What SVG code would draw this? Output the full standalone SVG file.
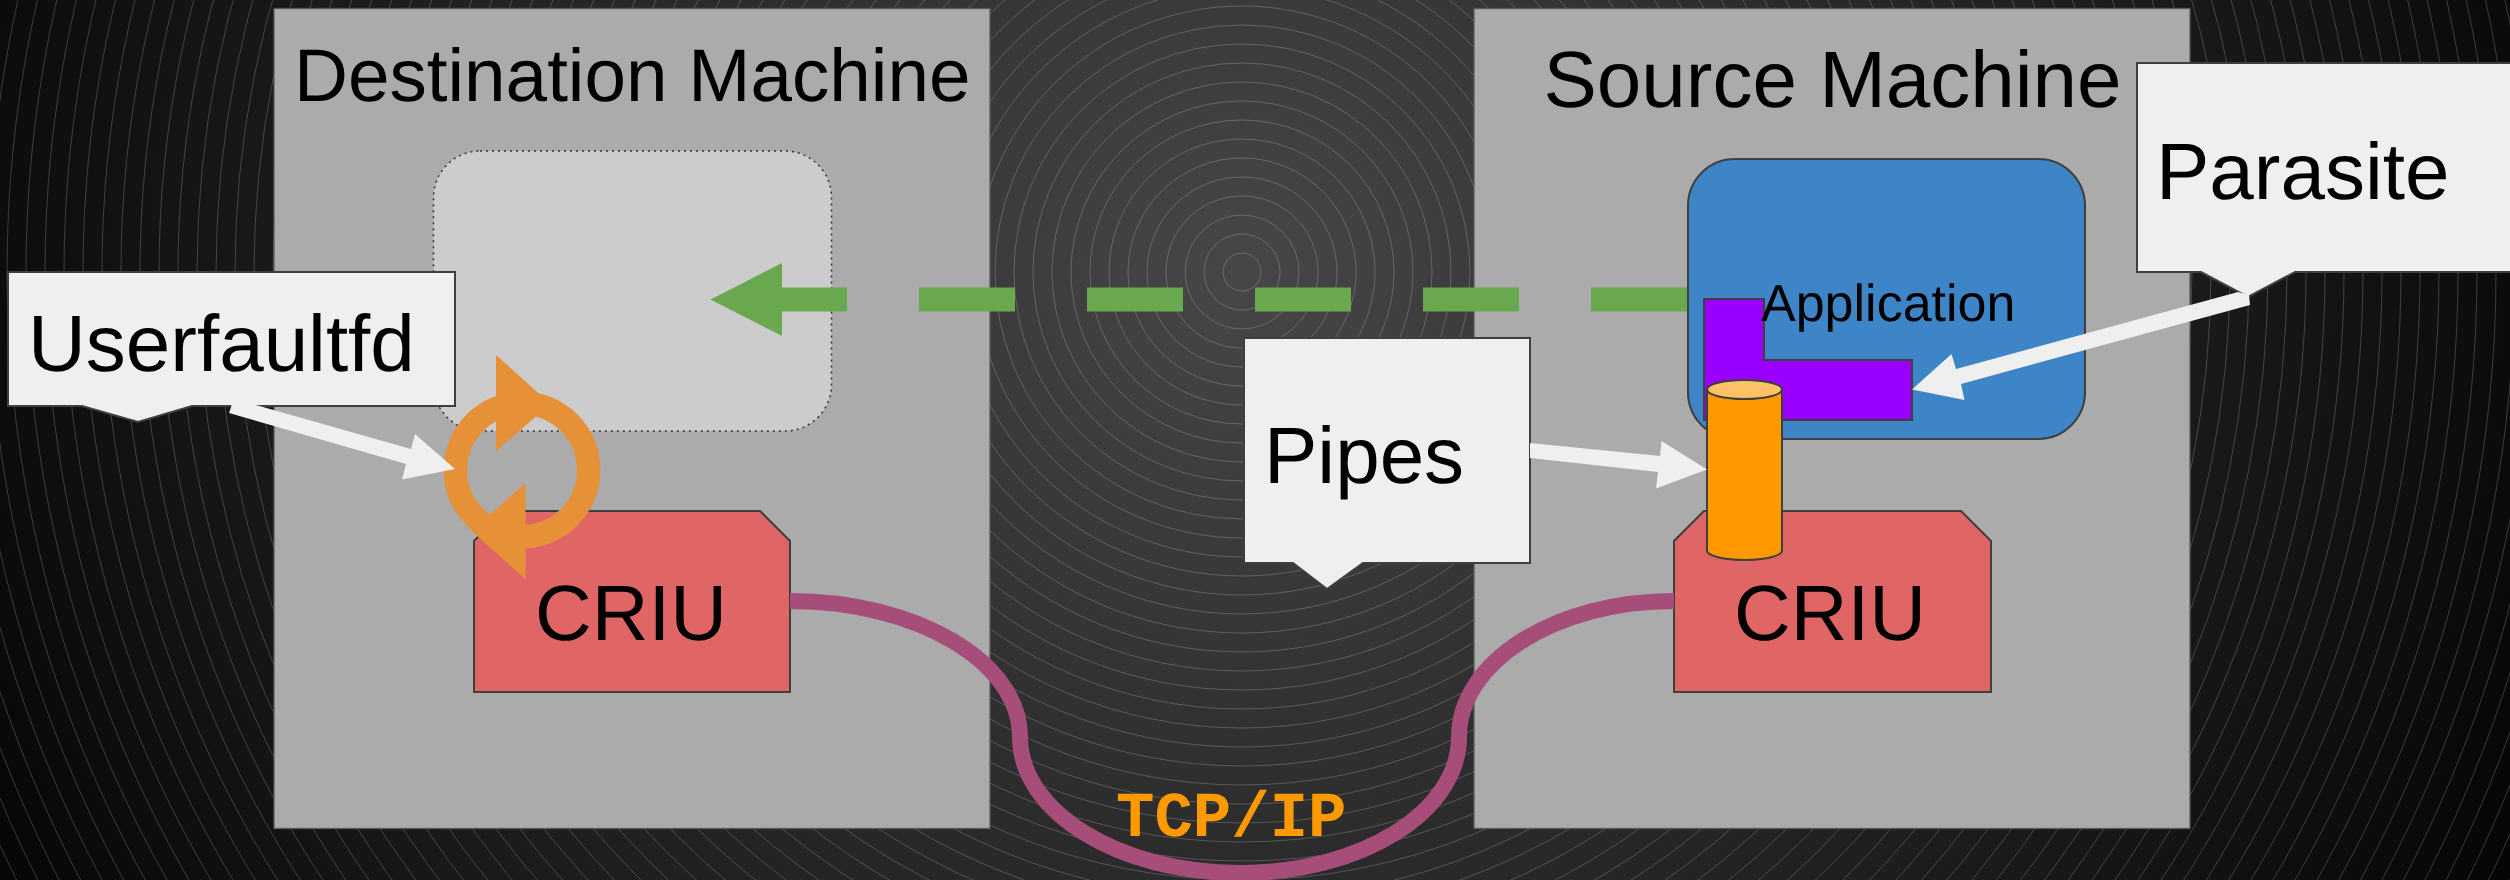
<svg xmlns="http://www.w3.org/2000/svg" width="2510" height="880" viewBox="0 0 2510 880">
<style>
text{font-family:"Liberation Sans",Arial,sans-serif;fill:#000;text-rendering:geometricPrecision}
.t{font-size:80px}
.c{font-size:78.500px;text-anchor:middle}
.rings circle{fill:none;stroke:#fff;stroke-opacity:.2;stroke-width:1}
.mach{fill:#ababab;stroke:#595959;stroke-width:1.3}
.line{stroke:#3f3f3f;stroke-width:2}
.call{fill:#efefef}
.criu{fill:#e06666}
.ptr{fill:#efefef}
</style>
<defs>
<radialGradient id="bg" gradientUnits="userSpaceOnUse" cx="1242" cy="272" r="1400">
<stop offset="0" stop-color="#474747"/><stop offset="1" stop-color="#050505"/>
</radialGradient>
</defs>
<rect width="2510" height="880" fill="url(#bg)"/>
<g class="rings">
<circle cx="1242" cy="272" r="19"/><circle cx="1242" cy="272" r="38"/><circle cx="1242" cy="272" r="57"/><circle cx="1242" cy="272" r="76"/><circle cx="1242" cy="272" r="95"/><circle cx="1242" cy="272" r="114"/><circle cx="1242" cy="272" r="133"/><circle cx="1242" cy="272" r="152"/><circle cx="1242" cy="272" r="171"/><circle cx="1242" cy="272" r="190"/><circle cx="1242" cy="272" r="209"/><circle cx="1242" cy="272" r="228"/><circle cx="1242" cy="272" r="247"/><circle cx="1242" cy="272" r="266"/><circle cx="1242" cy="272" r="285"/><circle cx="1242" cy="272" r="304"/><circle cx="1242" cy="272" r="323"/><circle cx="1242" cy="272" r="342"/><circle cx="1242" cy="272" r="361"/><circle cx="1242" cy="272" r="380"/><circle cx="1242" cy="272" r="399"/><circle cx="1242" cy="272" r="418"/><circle cx="1242" cy="272" r="437"/><circle cx="1242" cy="272" r="456"/><circle cx="1242" cy="272" r="475"/><circle cx="1242" cy="272" r="494"/><circle cx="1242" cy="272" r="513"/><circle cx="1242" cy="272" r="532"/><circle cx="1242" cy="272" r="551"/><circle cx="1242" cy="272" r="570"/><circle cx="1242" cy="272" r="589"/><circle cx="1242" cy="272" r="608"/><circle cx="1242" cy="272" r="627"/><circle cx="1242" cy="272" r="646"/><circle cx="1242" cy="272" r="665"/><circle cx="1242" cy="272" r="684"/><circle cx="1242" cy="272" r="703"/><circle cx="1242" cy="272" r="722"/><circle cx="1242" cy="272" r="741"/><circle cx="1242" cy="272" r="760"/><circle cx="1242" cy="272" r="779"/><circle cx="1242" cy="272" r="798"/><circle cx="1242" cy="272" r="817"/><circle cx="1242" cy="272" r="836"/><circle cx="1242" cy="272" r="855"/><circle cx="1242" cy="272" r="874"/><circle cx="1242" cy="272" r="893"/><circle cx="1242" cy="272" r="912"/><circle cx="1242" cy="272" r="931"/><circle cx="1242" cy="272" r="950"/><circle cx="1242" cy="272" r="969"/><circle cx="1242" cy="272" r="988"/><circle cx="1242" cy="272" r="1007"/><circle cx="1242" cy="272" r="1026"/><circle cx="1242" cy="272" r="1045"/><circle cx="1242" cy="272" r="1064"/><circle cx="1242" cy="272" r="1083"/><circle cx="1242" cy="272" r="1102"/><circle cx="1242" cy="272" r="1121"/><circle cx="1242" cy="272" r="1140"/><circle cx="1242" cy="272" r="1159"/><circle cx="1242" cy="272" r="1178"/><circle cx="1242" cy="272" r="1197"/><circle cx="1242" cy="272" r="1216"/><circle cx="1242" cy="272" r="1235"/><circle cx="1242" cy="272" r="1254"/><circle cx="1242" cy="272" r="1273"/><circle cx="1242" cy="272" r="1292"/><circle cx="1242" cy="272" r="1311"/><circle cx="1242" cy="272" r="1330"/><circle cx="1242" cy="272" r="1349"/><circle cx="1242" cy="272" r="1368"/><circle cx="1242" cy="272" r="1387"/><circle cx="1242" cy="272" r="1406"/>
</g>
<g id="destination-machine">
<rect class="mach" x="274" y="8.5" width="716" height="820"/>
<text x="294" y="101" font-size="74.670">Destination Machine</text>
</g>
<g id="source-machine">
<rect class="mach" x="1474" y="8.5" width="716" height="820"/>
<text x="1543.500" y="107" class="t">Source Machine</text>
</g>
<g id="restored-placeholder">
<rect x="433.500" y="151" width="398" height="280" rx="46.500" ry="46.500" fill="#ccc" stroke="#333" stroke-width="1.5" stroke-dasharray="2 4"/>
</g>
<g id="application">
<rect x="1688" y="159" width="397" height="280" rx="46.700" ry="46.700" fill="#3d85c6" class="line"/>
</g>
<g id="parasite-shape">
<path d="M1704 299H1764V360H1912V420H1704Z" fill="#9900ff" class="line"/>
</g>
<g id="application-label">
<text x="1761" y="321" font-size="52">Application</text>
</g>
<g id="criu-destination">
<path class="criu line" d="M504 511H760L790 541V692H474V541Z"/>
<text x="631" y="640" class="c">CRIU</text>
</g>
<g id="criu-source">
<path class="criu line" d="M1704 511H1961L1991 541V692H1674V541Z"/>
<text x="1830" y="640" class="c">CRIU</text>
</g>
<g id="pipe">
<path d="M1707 389.500V550.500A37.500 9.500 0 0 0 1782 550.500V389.500Z" fill="#f90" class="line"/>
<ellipse cx="1744.500" cy="389.500" rx="37.500" ry="9.500" fill="#ffc266" class="line"/>
</g>
<g id="userfaultfd-cycle" fill="#e69138">
<circle cx="522" cy="470" r="66.700" fill="none" stroke="#e69138" stroke-width="23.500"/>
<path d="M496 355L550.500 404L496 451Z"/>
<path d="M525.500 483L471.500 531L525.500 579Z"/>
</g>
<g id="connectors">
<path d="M790 601C917 601 1020 662 1020 737C1020 812 1119 873 1240 873C1361 873 1459 812 1459 737C1459 662 1555 601 1674 601" fill="none" stroke="#a64d79" stroke-width="16"/>
<path d="M1687 299.500H782" fill="none" stroke="#6aa84f" stroke-width="24" stroke-dasharray="96 72"/>
<path d="M782 263V336L710.500 299.500Z" fill="#6aa84f"/>
</g>
<g id="callout-userfaultfd">
<path class="call line" d="M8 272H455V406H192L138 422L82 406H8Z"/>
<text x="28" y="371" class="t">Userfaultfd</text>
</g>
<g id="callout-pipes">
<path class="call line" d="M1244 338H1530V563H1363L1327 589L1293 563H1244Z"/>
<text x="1264" y="483" class="t">Pipes</text>
</g>
<g id="callout-parasite">
<path class="call line" d="M2137 63H2512V272H2295L2248 297L2201 272H2137Z"/>
<text x="2156" y="199" class="t">Parasite</text>
</g>
<g id="pointers">
<path class="ptr" d="M229 413L232 404H252L411 449L415 434L455 469L402 479.500L406 464Z"/>
<path class="ptr" d="M1530 443L1660 456L1661.500 441L1707 469.500L1656 488.500L1658 472L1530 458Z"/>
<path class="ptr" d="M2238 292L2249 295L2250 305L1961 384L1964.500 400L1912 389.500L1951.500 354L1956 369Z"/>
</g>
<g id="tcp-label">
<text x="1116" y="836" font-size="64" font-weight="700" style="font-family:'Liberation Mono','Courier New',monospace;fill:#f90">TCP/IP</text>
</g>
</svg>
